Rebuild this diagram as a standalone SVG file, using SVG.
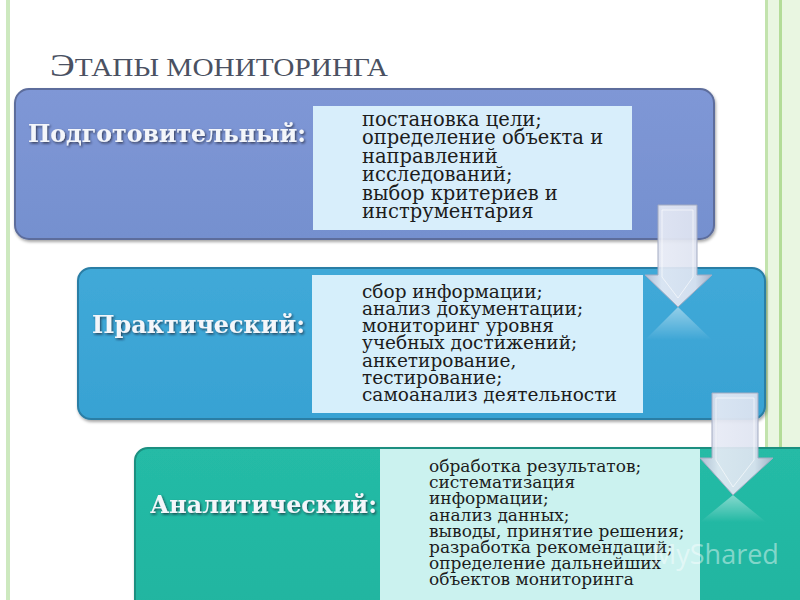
<svg xmlns="http://www.w3.org/2000/svg" width="800" height="600" viewBox="0 0 800 600">
<defs>
<style>
.lbl{font-family:"DejaVu Serif","Liberation Serif",serif;font-weight:bold;font-size:25px;fill:#f4f6fa;}
.txt{font-family:"DejaVu Serif","Liberation Serif",serif;fill:#1c1c1c;}
.title{font-family:"Liberation Serif","DejaVu Serif",serif;fill:#4a5162;}
</style>
<filter id="sh" x="-5%" y="-10%" width="110%" height="125%">
<feDropShadow dx="1" dy="2" stdDeviation="1.8" flood-color="#000" flood-opacity="0.35"/>
</filter>
<filter id="tsh" x="-5%" y="-20%" width="110%" height="150%">
<feDropShadow dx="1.2" dy="1.5" stdDeviation="0.8" flood-color="#1a1a2a" flood-opacity="0.7"/>
</filter>
<linearGradient id="g1" x1="0" y1="0" x2="0" y2="1"><stop offset="0" stop-color="#7f97d6"/><stop offset="1" stop-color="#7590cf"/></linearGradient>
<linearGradient id="g2" x1="0" y1="0" x2="0" y2="1"><stop offset="0" stop-color="#40a9d8"/><stop offset="1" stop-color="#38a2d3"/></linearGradient>
<linearGradient id="g3" x1="0" y1="0" x2="0" y2="1"><stop offset="0" stop-color="#25bba6"/><stop offset="1" stop-color="#20b5a0"/></linearGradient>
<linearGradient id="ga" x1="0" y1="0" x2="1" y2="0"><stop offset="0" stop-color="#b9c0d6"/><stop offset="0.25" stop-color="#e6eaf5"/><stop offset="0.75" stop-color="#dfe4f1"/><stop offset="1" stop-color="#aab2c8"/></linearGradient>
<linearGradient id="gr" x1="0" y1="0" x2="0" y2="1"><stop offset="0" stop-color="#ffffff" stop-opacity="0.45"/><stop offset="1" stop-color="#ffffff" stop-opacity="0"/></linearGradient>
</defs>
<rect width="800" height="600" fill="#ffffff"/>
<g id="frame">
<rect x="6" y="0" width="4" height="600" fill="#cde9bf"/>
<rect x="765" y="0" width="35" height="600" fill="#e9f6e1"/>
<rect x="765" y="0" width="3" height="600" fill="#c2e3ad"/>
<rect x="779" y="0" width="3" height="600" fill="#b3dc98"/>
</g>
<g id="title">
<text class="title" x="50" y="76" textLength="338" lengthAdjust="spacingAndGlyphs"><tspan font-size="32">Э</tspan><tspan font-size="25">ТАПЫ МОНИТОРИНГА</tspan></text>
</g>
<g id="stage1">
<rect x="15" y="89" width="699" height="150" rx="14" fill="url(#g1)" stroke="#5d6d9c" stroke-width="2" filter="url(#sh)"/>
<rect x="313" y="106" width="319" height="124" fill="#d8eefb"/>
<text class="lbl" x="28" y="142" textLength="278" lengthAdjust="spacingAndGlyphs" filter="url(#tsh)">Подготовительный:</text>
<text class="txt" font-size="19.5">
<tspan x="362" y="126">постановка цели;</tspan>
<tspan x="362" y="144.4">определение объекта и</tspan>
<tspan x="362" y="162.8">направлений</tspan>
<tspan x="362" y="181.2">исследований;</tspan>
<tspan x="362" y="199.6">выбор критериев и</tspan>
<tspan x="362" y="218">инструментария</tspan>
</text>
</g>
<g id="stage2">
<rect x="78" y="268" width="687" height="151" rx="13" fill="url(#g2)" stroke="#2b7ea5" stroke-width="2" filter="url(#sh)"/>
<rect x="312" y="275" width="331" height="138" fill="#d6effb"/>
<text class="lbl" x="92" y="333" textLength="213" lengthAdjust="spacingAndGlyphs" filter="url(#tsh)">Практический:</text>
<text class="txt" font-size="18.5">
<tspan x="362" y="297.5">сбор информации;</tspan>
<tspan x="362" y="314.8">анализ документации;</tspan>
<tspan x="362" y="332.1">мониторинг уровня</tspan>
<tspan x="362" y="349.4">учебных достижений;</tspan>
<tspan x="362" y="366.7">анкетирование,</tspan>
<tspan x="362" y="384">тестирование;</tspan>
<tspan x="362" y="401.3">самоанализ деятельности</tspan>
</text>
</g>
<g id="stage3">
<rect x="135" y="448" width="680" height="170" rx="13" fill="url(#g3)" stroke="#1a8f80" stroke-width="2" filter="url(#sh)"/>
<rect x="380" y="449" width="320" height="151" fill="#cbf2ef"/>
<text class="lbl" x="150" y="513" textLength="227" lengthAdjust="spacingAndGlyphs" filter="url(#tsh)">Аналитический:</text>
<text class="txt" font-size="17">
<tspan x="429" y="472">обработка результатов;</tspan>
<tspan x="429" y="488.2">систематизация</tspan>
<tspan x="429" y="504.4">информации;</tspan>
<tspan x="429" y="520.6">анализ данных;</tspan>
<tspan x="429" y="536.8">выводы, принятие решения;</tspan>
<tspan x="429" y="553">разработка рекомендаций;</tspan>
<tspan x="429" y="569.2">определение дальнейших</tspan>
<tspan x="429" y="585.4">объектов мониторинга</tspan>
</text>
<text x="652" y="564" font-family="'Open Sans','Liberation Sans',sans-serif" font-size="27" fill="#ffffff" fill-opacity="0.45">MyShared</text>
</g>
<g id="connectors">
<g id="arrow1">
<polygon points="678,307 645,340 712,340" fill="url(#gr)"/>
<polygon points="658,205 697,205 697,275 712,275 678,307 645,275 658,275" fill="url(#ga)" fill-opacity="0.92" stroke="#a3abc2" stroke-width="1"/>
<polyline points="662,210 693,210 693,277 678,298 662,277 662,210" fill="none" stroke="#ffffff" stroke-opacity="0.6" stroke-width="1"/>
</g>
<g id="arrow2">
<polygon points="733,495 700,522 766,522" fill="url(#gr)"/>
<polygon points="712,393 758,393 758,458 773,458 733,495 700,458 712,458" fill="url(#ga)" fill-opacity="0.92" stroke="#a3abc2" stroke-width="1"/>
<polyline points="716,398 754,398 754,460 733,487 716,460 716,398" fill="none" stroke="#ffffff" stroke-opacity="0.6" stroke-width="1"/>
</g>
</g>
</svg>
